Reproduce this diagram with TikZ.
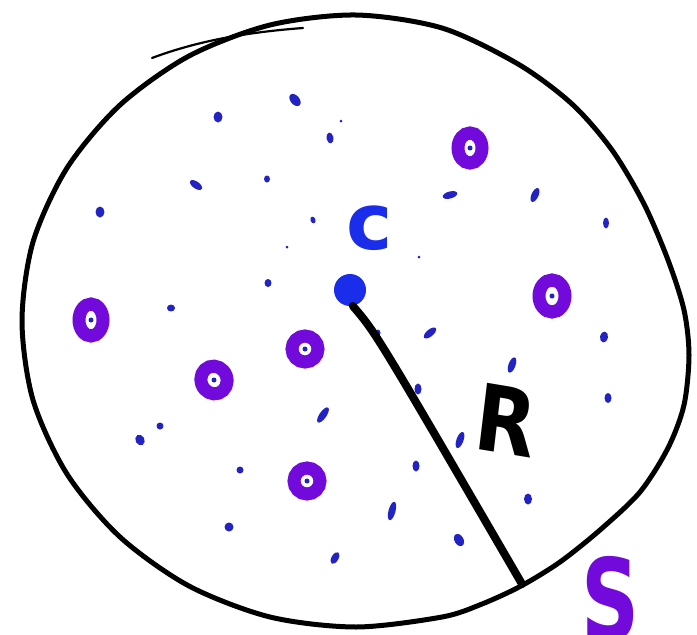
\documentclass[tikz,border=0pt]{standalone}
\usepackage{fontspec}
\usetikzlibrary{shapes.geometric}
\newfontfamily\handfont{DejaVu Sans}
\definecolor{dotblue}{RGB}{35,35,195}
\definecolor{cblue}{RGB}{25,45,235}
\definecolor{ringpurple}{RGB}{115,10,220}
\tikzset{
  outline/.style={line width=5pt, black, line join=round},
  speck/.style={fill=dotblue, draw=none},
  ringdot/.style={draw=ringpurple, line width=13pt, fill=white},
  rline/.style={line width=8pt, black, line cap=round},
}
\begin{document}
\begin{tikzpicture}[x=1pt,y=-1pt]
\useasboundingbox (0,0) rectangle (697,635);
\clip (0,0) rectangle (697,635);
\fill[white] (0,0) rectangle (697,635);
% outline
\draw[outline] plot[smooth cycle, tension=0.5] coordinates {
 (689,355) (684,405) (668,448) (640,492) (600,530) (560,562) (521,586) (482,604)
 (442,617) (356,627) (270,617) (189,586) (120,537) (67,474) (33,400) (22,321) (33,242)
 (67,168) (120,105) (189,56) (270,25) (356,15) (442,28) (518,64) (572,104)
 (612,150) (644,204) (668,260) (684,310)};
% extra top stroke
\draw[line width=2.2pt, line cap=round] (152,58) .. controls (200,40) and (250,32) .. (303,28);
% specks
\foreach \x/\y/\a/\b/\r in {
 100/212/4.5/5.5/0, 218/117/4.5/5.5/0, 295/100/4.5/7/40, 341/121/1.5/1.5/0, 330/138/3.5/5.5/10,
 196/185/3.5/7/55, 267/179/3/3.5/0, 313/220/2.5/3.5/20, 287/247/1.5/1.5/0, 419/257/1.5/1.5/0,
 450/195/7.5/3.5/15, 535/195/3.5/7.5/-25, 606/223/3/5.5/0, 268/283/3.5/4/0, 171/308/4/3.5/0,
 378/333/2.5/3.5/0, 430/333/3.5/7.5/-50, 512/365/3.5/8/-20, 418/389/3.5/5.5/0, 604/337/4/5.5/-10,
 608/398/3.5/5/0, 323/415/3.5/9/-35, 160/426/3.5/3.5/0, 140/440/4.5/5.5/30, 240/470/3.5/3.5/0,
 460/440/3.5/8.5/-20, 416/466/3.5/5.5/0, 392/511/3.5/9.5/-15, 528/499/4/5.5/0, 459/540/4.5/6.5/30,
 335/558/3.5/6.5/-30, 229/527/4.5/4.5/0} {
  \fill[speck, rotate around={\r:(\x,\y)}] (\x,\y) ellipse [x radius=\a, y radius=\b];
}
% purple rings
\foreach \x/\y/\a/\b/\r [count=\i] in {470/148/12/15/0, 552/296/13/16/0, 91/320/12/16/0,
  305/349/13/13/0, 214/380/13/14/20, 307/481/13/13/0} {
  \node[ringdot, ellipse, minimum width=2*\a pt, minimum height=2*\b pt, inner sep=0pt,
        rotate=\r] (ring\i) at (\x,\y) {};
  \fill[dotblue] (\x,\y) circle (2.5);
}
% centre dot and label
\node[circle, fill=cblue, minimum size=32pt, inner sep=0pt] (cdot) at (350,290) {};
\node[text=cblue, font=\handfont\bfseries\fontsize{78}{78}\selectfont, inner sep=0pt] (clabel) at (370,228) {c};
% radius
\coordinate (rend) at (522,584);
\draw[rline] (cdot.-80) .. controls (376,333) .. (rend);
\node[font=\handfont\bfseries\fontsize{92}{92}\selectfont, inner sep=0pt, xscale=0.85, rotate=-8] (rlabel) at (506,420) {R};
% surface label
\node[text=ringpurple, font=\handfont\bfseries\fontsize{112}{112}\selectfont, inner sep=0pt, anchor=north, xscale=0.72] (slabel) at (611,556) {S};
\end{tikzpicture}
\end{document}
